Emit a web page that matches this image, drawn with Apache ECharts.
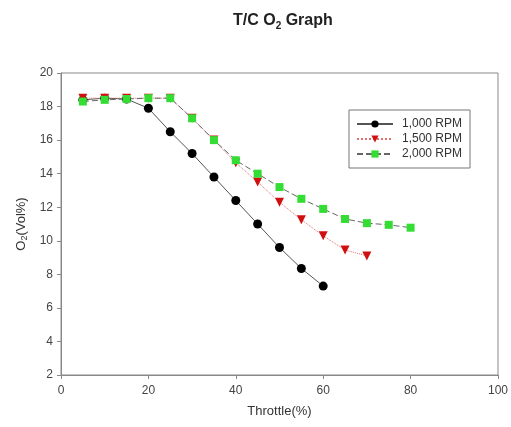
<!DOCTYPE html>
<html><head><meta charset="utf-8">
<script src="https://cdn.jsdelivr.net/npm/echarts@6/dist/echarts.min.js"></script>
<style>html,body{margin:0;padding:0;background:#fff}#c{width:511px;height:427px}</style>
</head><body><div id="c"></div>
<script>
const throttle1000 = [5,10,15,20,25,30,35,40,45,50,55,60];
const o2_1000 = [18.4,18.5,18.45,17.9,16.5,15.2,13.8,12.4,11.0,9.6,8.35,7.3];
const throttle1500 = [5,10,15,20,25,30,35,40,45,50,55,60,65,70];
const o2_1500 = [18.5,18.5,18.5,18.5,18.5,17.3,16.0,14.65,13.5,12.3,11.25,10.3,9.45,9.1];
const throttle2000 = [5,10,15,20,25,30,35,40,45,50,55,60,65,70,75,80];
const o2_2000 = [18.3,18.4,18.45,18.5,18.5,17.3,16.0,14.8,14.0,13.2,12.5,11.9,11.3,11.05,10.95,10.78];
const seriesNames = ['1,000 RPM','1,500 RPM','2,000 RPM'];
const xTicks = {min:0,max:100,interval:20};
const yTicks = {min:2,max:20,interval:2};

const pair = (xs, ys) => xs.map((x,i)=>[x, ys[i]]);
const font = 'Liberation Sans, Arial, sans-serif';
const chart = echarts.init(document.getElementById('c'));
chart.setOption({
  animation:false,
  backgroundColor:'#fff',
  title:{
    text:'{a|T/C O}{s|2}{a| Graph}',
    left:228, top:5,
    textStyle:{rich:{
      a:{fontFamily:font,fontWeight:'bold',fontSize:16,color:'#222',lineHeight:22},
      s:{fontFamily:font,fontWeight:'bold',fontSize:10,color:'#222',lineHeight:22,padding:[10,0,0,0]}
    }}
  },
  grid:{left:61,right:12,top:73,bottom:52,show:true,borderColor:'#888',borderWidth:1,containLabel:false},
  legend:{
    orient:'vertical', left:349, top:110,
    data:seriesNames,
    itemWidth:36, itemHeight:9, itemGap:3,
    borderColor:'#777', borderWidth:1, padding:[8,8,8,7],
    textStyle:{fontFamily:font,fontSize:12,color:'#333',padding:[0,0,0,4]}
  },
  xAxis:{
    type:'value', min:xTicks.min, max:xTicks.max, interval:xTicks.interval,
    name:'Throttle(%)', nameLocation:'middle', nameGap:30,
    nameTextStyle:{fontFamily:font,fontSize:13,color:'#333'},
    axisLine:{show:true,lineStyle:{color:'#888'}},
    axisTick:{show:true,inside:false,length:4,lineStyle:{color:'#888'}},
    axisLabel:{fontFamily:font,fontSize:12,color:'#444',margin:10},
    splitLine:{show:false}
  },
  yAxis:{
    type:'value', min:yTicks.min, max:yTicks.max, interval:yTicks.interval,
    name:'{a|O}{s|2}{a|(Vol%)}', nameLocation:'middle', nameGap:31, nameRotate:90,
    nameTextStyle:{rich:{
      a:{fontFamily:font,fontSize:13,color:'#333',lineHeight:16},
      s:{fontFamily:font,fontSize:9,color:'#333',lineHeight:16,padding:[6,0,0,0]}
    }},
    axisLine:{show:true,lineStyle:{color:'#888'}},
    axisTick:{show:true,inside:false,length:4,lineStyle:{color:'#888'}},
    axisLabel:{fontFamily:font,fontSize:12,color:'#444',margin:8},
    splitLine:{show:false}
  },
  series:[
    {name:seriesNames[0],type:'line',data:pair(throttle1000,o2_1000),
     symbol:'circle',symbolSize:9,
     itemStyle:{color:'#000'},lineStyle:{color:'#555',width:1,type:'solid'}},
    {name:seriesNames[1],type:'line',data:pair(throttle1500,o2_1500),
     symbol:'triangle',symbolRotate:180,symbolSize:9,
     itemStyle:{color:'#d01010'},lineStyle:{color:'#e07070',width:1,type:'dotted'}},
    {name:seriesNames[2],type:'line',data:pair(throttle2000,o2_2000),
     symbol:'rect',symbolSize:8,
     itemStyle:{color:'#33dd33'},lineStyle:{color:'#666',width:1,type:[6,3]}}
  ]
});
</script></body></html>
